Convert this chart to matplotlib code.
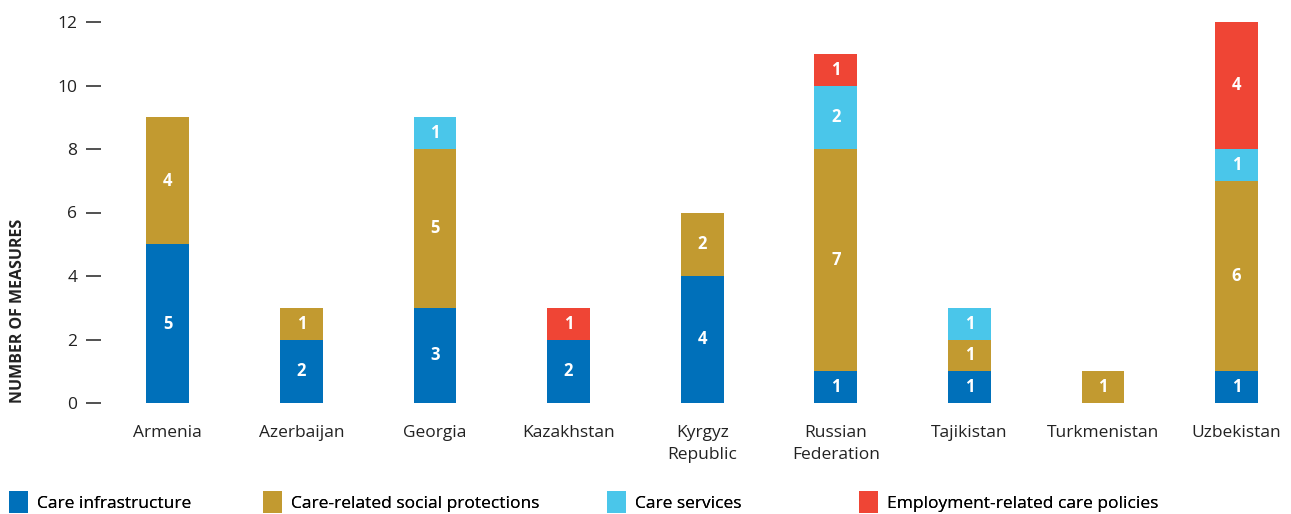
import matplotlib.pyplot as plt
from matplotlib.patches import Patch
import numpy as np

countries = ['Armenia', 'Azerbaijan', 'Georgia', 'Kazakhstan', 'Kyrgyz\nRepublic',
             'Russian\nFederation', 'Tajikistan', 'Turkmenistan', 'Uzbekistan']
infrastructure = [5, 2, 3, 2, 4, 1, 1, 0, 1]
social_protections = [4, 1, 5, 0, 2, 7, 1, 1, 6]
care_services = [0, 0, 1, 0, 0, 2, 1, 0, 1]
employment = [0, 0, 0, 1, 0, 1, 0, 0, 4]

series = [
    ('Care infrastructure', infrastructure, '#0070BA'),
    ('Care-related social protections', social_protections, '#C29A30'),
    ('Care services', care_services, '#4AC6EA'),
    ('Employment-related care policies', employment, '#EF4535'),
]

plt.rcParams['font.family'] = ['Open Sans', 'DejaVu Sans']

fig = plt.figure(figsize=(12.91, 5.14), dpi=100)
ax = fig.add_axes([101 / 1291, 111 / 514, (1278 - 101) / 1291, 381 / 514])

x = np.arange(len(countries))
bottom = np.zeros(len(countries))
for name, vals, color in series:
    vals = np.array(vals, dtype=float)
    ax.bar(x, vals, width=0.32, bottom=bottom, color=color, label=name)
    for xi, b, v in zip(x, bottom, vals):
        if v > 0:
            ax.text(xi, b + v / 2, f'{int(v)}', ha='center', va='center',
                    color='white', fontsize=12, fontweight='bold')
    bottom += vals

ax.set_xlim(-0.5, 8.31)
ax.set_ylim(0, 12)
ax.set_yticks(range(0, 13, 2))
ax.set_xticks(x)
ax.set_xticklabels(countries, fontsize=12.5, color='#222222', linespacing=1.45)
ax.tick_params(axis='x', length=0, pad=16)
ax.tick_params(axis='y', length=11, width=1.2, color='#333333', labelsize=12.5,
               labelcolor='#222222', pad=6)
for s in ax.spines.values():
    s.set_visible(False)

fig.text(18 / 1291, 111 / 514, 'NUMBER OF MEASURES', rotation=90, ha='center',
         va='bottom', fontsize=11.5, fontweight='bold', color='#222222')

legend_x = [2, 256, 600, 852]
for (name, vals, color), lx in zip(series, legend_x):
    leg = fig.legend(handles=[Patch(facecolor=color, label=name)], loc='lower left',
                     bbox_to_anchor=(lx / 1291, -0.012), frameon=False, fontsize=12.5,
                     handlelength=1.1, handleheight=1.6, handletextpad=0.5,
                     borderaxespad=0.0)
    fig.add_artist(leg)

fig.savefig('out.png', dpi=100)
